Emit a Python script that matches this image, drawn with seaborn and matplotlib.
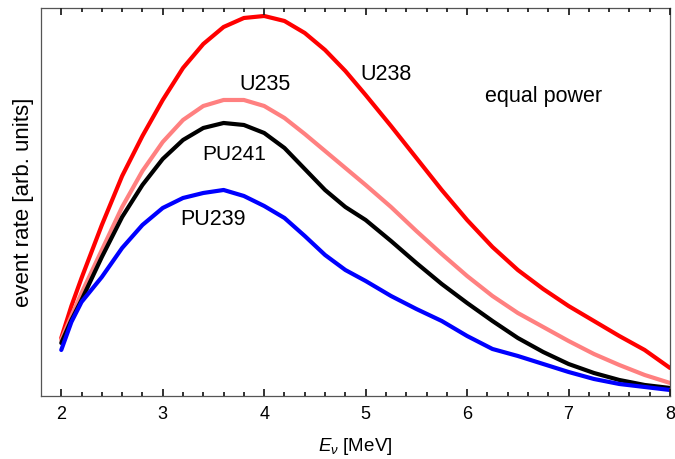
import numpy as np
import pandas as pd
from matplotlib import pyplot as plt
from matplotlib.ticker import MultipleLocator
import seaborn as sns

# neutrino energy grid [MeV] and rates (arb. units)
energy = [2.0, 2.1, 2.2, 2.4, 2.6, 2.8, 3.0, 3.2, 3.4, 3.6, 3.8, 4.0, 4.2, 4.4, 4.6,
          4.8, 5.0, 5.25, 5.5, 5.75, 6.0, 6.25, 6.5, 6.75, 7.0, 7.25, 7.5, 7.75, 8.0]
u238 = [58, 90, 118, 171, 220, 260, 296, 328, 352, 369, 378, 380, 375, 363, 346,
        325, 301, 270, 238, 206, 176, 149, 126, 107, 90, 75, 60, 46, 28]
u235 = [56, 80, 103, 146, 189, 225, 254, 276, 290, 296, 296, 290, 278, 262, 245,
        228, 211, 189, 165, 142, 120, 100, 83, 69, 55, 42, 31, 21, 13]
pu241 = [53, 76, 96, 139, 179, 211, 237, 256, 268, 273, 271, 263, 248, 227, 206,
         189, 176, 155, 133, 112, 93, 75, 58, 44, 32, 23, 16, 11, 8]
pu239 = [46, 74, 94, 119, 148, 171, 188, 198, 203, 206, 200, 190, 178, 160, 141,
         126, 115, 100, 87, 75, 60, 47, 40, 32, 24, 17, 12, 9, 6]

isotopes = ["U238", "U235", "PU241", "PU239"]
colors = {"U238": "#ff0000", "U235": "#ff8080", "PU241": "#000000", "PU239": "#0000ff"}

data = pd.DataFrame({
    "E": energy * 4,
    "rate": u238 + u235 + pu241 + pu239,
    "isotope": np.repeat(isotopes, len(energy)),
})

sns.set_theme(style="ticks", rc={
    "xtick.labelcolor": "black", "axes.labelcolor": "black", "text.color": "black",
})
plt.rcParams["font.family"] = ["Liberation Sans", "DejaVu Sans"]
plt.rcParams["mathtext.fontset"] = "custom"
plt.rcParams["mathtext.rm"] = "Liberation Sans"
plt.rcParams["mathtext.it"] = "Liberation Sans:italic"

fig = plt.figure(figsize=(6.75, 4.59), dpi=100)
ax = fig.add_axes([0.0607, 0.1373, 0.9319, 0.8453])

sns.lineplot(data=data, x="E", y="rate", hue="isotope", palette=colors,
             hue_order=isotopes, linewidth=3.0, legend=False, ax=ax)

ax.set_xlim(1.8, 8.0)
ax.set_ylim(0, 388)
ax.set_xticks([2, 3, 4, 5, 6, 7, 8])
ax.xaxis.set_minor_locator(MultipleLocator(0.2))
ax.tick_params(axis="x", which="both", length=0, labelsize=13, pad=7.5)
ax.tick_params(axis="y", which="both", left=False, right=False, labelleft=False)
for s in ax.spines.values():
    s.set_color("#555555")
    s.set_linewidth(0.9)

# inward tick marks on bottom and top edges (drawn as short lines)
xt = ax.get_xaxis_transform()
major = ax.xaxis.get_majorticklocs()
minor = [m for m in ax.xaxis.get_minorticklocs() if 1.8 < m < 8.0]
tick_kw = dict(transform=xt, color="#222222", lw=1.3, clip_on=False, zorder=5)
ax.vlines(major, 0, 0.018, **tick_kw)
ax.vlines(major, 0.982, 1, **tick_kw)
ax.vlines(minor, 0, 0.01, **tick_kw)
ax.vlines(minor, 0.99, 1, **tick_kw)

ax.set_xlabel(r"$E_\nu$ [MeV]", fontsize=13.5, labelpad=9)
ax.set_ylabel("event rate [arb. units]", fontsize=16, labelpad=5)

ax.text(4.01, 311, "U235", fontsize=15.5, ha="center", va="center")
ax.text(5.2, 321, "U238", fontsize=15.5, ha="center", va="center")
ax.text(6.75, 299, "equal power", fontsize=15.5, ha="center", va="center")
ax.text(3.70, 241, "PU241", fontsize=15, ha="center", va="center")
ax.text(3.50, 176, "PU239", fontsize=15.5, ha="center", va="center")

fig.savefig("out.png", dpi=100)
